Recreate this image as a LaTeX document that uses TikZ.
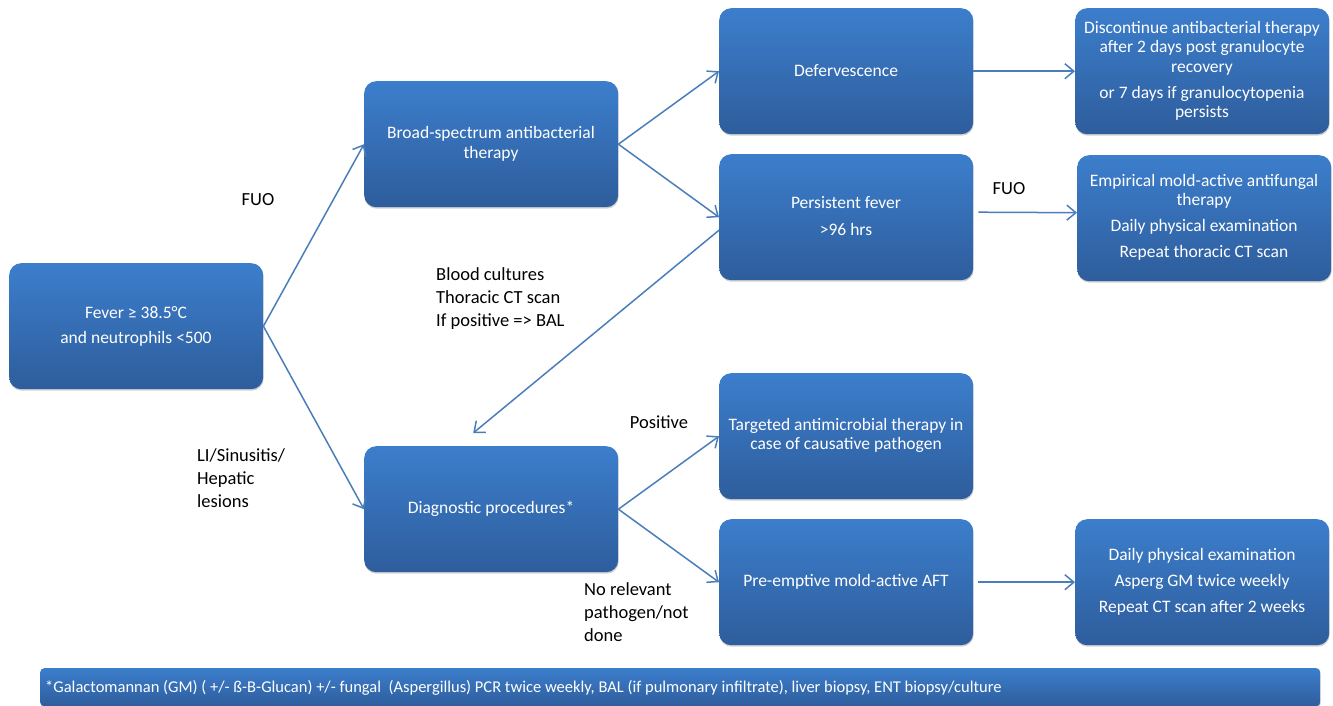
\documentclass[tikz,border=0pt]{standalone}
\usepackage{fontspec}
\setmainfont{Carlito}
\usetikzlibrary{arrows.meta,shadows,calc}
\definecolor{boxtop}{RGB}{60,126,204}
\definecolor{boxbot}{RGB}{46,93,156}
\definecolor{arrcol}{RGB}{74,126,187}
\begin{document}
\begin{tikzpicture}[x=1pt,y=-1pt,
 box/.style={draw=none, rounded corners=12pt, top color=boxtop, bottom color=boxbot, minimum width=254pt, minimum height=126pt, anchor=north west, inner sep=0pt, drop shadow={shadow xshift=0.5pt, shadow yshift=-1.5pt, opacity=0.3, fill=black!60}},
 btext/.style={text=white, font=\fontsize{17.5}{19.5}\selectfont, align=center, inner sep=0pt},
 ltext/.style={text=black, font=\fontsize{18.5}{23}\selectfont, align=left, inner sep=0pt, anchor=west},
 conn/.style={draw=arrcol, line width=1.5pt, -{Straight Barb[length=9pt,width=15pt,line width=1.5pt]}}]
\useasboundingbox (0,0) rectangle (1333,706);
% boxes
\node[box] (fever) at (9,263) {};
\node[box] (broad) at (364,81) {};
\node[box] (defer) at (719,8) {};
\node[box] (disc) at (1075,8) {};
\node[box] (persist) at (719,154) {};
\node[box] (empir) at (1077,155) {};
\node[box] (diag) at (364,446) {};
\node[box] (target) at (719,373) {};
\node[box] (preempt) at (719,519) {};
\node[box] (daily) at (1075,519) {};
\node[box, minimum width=1280pt, minimum height=38pt, rounded corners=4pt] (foot) at (40,668) {};
% box texts
\node[btext] (tfever) at (136,326.5) {Fever ≥ 38.5°C\\[5.5pt]and neutrophils <500};
\node[btext] (tbroad) at (491,144) {Broad-spectrum antibacterial\\therapy};
\node[btext] (tdefer) at (846,70.5) {Defervescence};
\node[btext] (tdisc) at (1202,71) {Discontinue antibacterial therapy\\after 2 days post granulocyte\\recovery\\[6.5pt]or 7 days if granulocytopenia\\persists};
\node[btext] (tpersist) at (846,216.5) {Persistent fever\\[7.5pt]>96 hrs};
\node[btext] (tempir) at (1204,217.5) {Empirical mold-active antifungal\\therapy\\[6.5pt]Daily physical examination\\[6.5pt]Repeat thoracic CT scan};
\node[btext] (tdiag) at (491,509) {Diagnostic procedures*};
\node[btext] (ttarget) at (846,435.5) {Targeted antimicrobial therapy in\\case of causative pathogen};
\node[btext] (tpre) at (846,582) {Pre-emptive mold-active AFT};
\node[btext] (tdaily) at (1202,581.5) {Daily physical examination\\[6.5pt]Asperg GM twice weekly\\[6.5pt]Repeat CT scan after 2 weeks};
\node[btext, anchor=west, font=\fontsize{16.5}{18}\selectfont] (tfoot) at (45,688) {*Galactomannan (GM) ( +/- ß-B-Glucan) +/- fungal\ \ (Aspergillus) PCR twice weekly, BAL (if pulmonary infiltrate), liver biopsy, ENT biopsy/culture};
% free labels
\node[ltext, anchor=center] (lfuo1) at (258,200) {FUO};
\node[ltext] (lblood) at (436,298.5) {Blood cultures\\Thoracic CT scan\\If positive => BAL};
\node[ltext] (lli) at (197,478) {LI/Sinusitis/\\Hepatic\\lesions};
\node[ltext, anchor=center] (lfuo2) at (1009,189) {FUO};
\node[ltext, anchor=center] (lpos) at (659,422) {Positive};
\node[ltext] (lno) at (584,612) {No relevant\\pathogen/not\\done};
% connectors
\draw[conn] (fever.east) -- (broad.west);
\draw[conn] (fever.east) -- (diag.west);
\draw[conn] (broad.east) -- (defer.west);
\draw[conn] (broad.east) -- (persist.west);
\draw[conn] (defer.east) -- (disc.west);
\draw[conn] ($(persist.east)+(5,-5)$) -- ($(empir.west)+(0,-5.5)$);
\coordinate (dtop) at ($(diag.north)+(-18,-13)$);
\draw[conn] ($(persist.west)+(0,13)$) -- (dtop);
\draw[conn] (diag.east) -- (target.west);
\draw[conn] (diag.east) -- (preempt.west);
\draw[conn] ($(preempt.east)+(5,0)$) -- (daily.west);
\end{tikzpicture}
\end{document}
